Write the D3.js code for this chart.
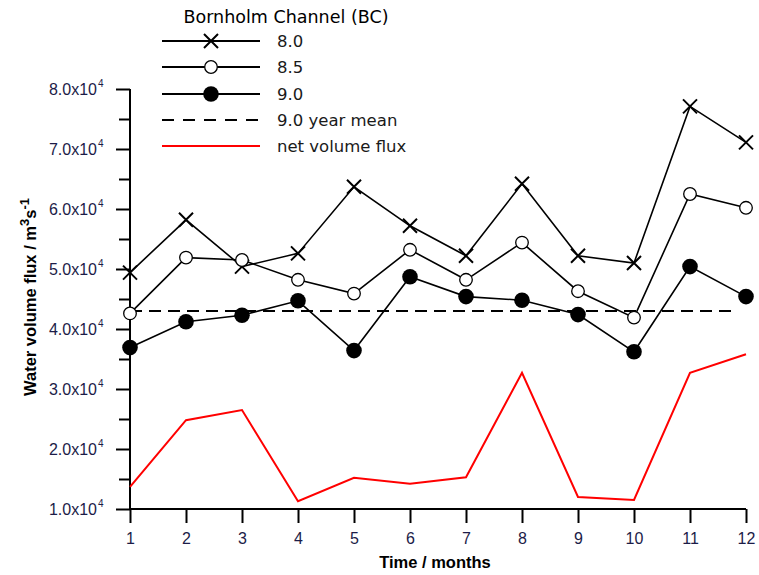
<!DOCTYPE html>
<html><head><meta charset="utf-8">
<script src="https://cdn.jsdelivr.net/npm/d3@7"></script>
<style>body{margin:0;background:#fff}</style>
</head><body>
<svg id="c" width="759" height="575"></svg>
<script>
const months = [1,2,3,4,5,6,7,8,9,10,11,12];
const s80 = [49400,58200,50400,52600,63700,57200,52200,64200,52200,51000,77100,71100];
const s85 = [42600,51900,51500,48200,45900,53200,48200,54400,46300,41900,62500,60200];
const s90 = [36900,41200,42300,44700,36400,48700,45400,44800,42400,36200,50400,45400];
const mean90 = 43000;
const netFlux = [13700,24800,26500,11300,15200,14200,15300,32700,12000,11500,32700,35800];
const yTicks = [10000,20000,30000,40000,50000,60000,70000,80000];
const yMinor = [15000,25000,35000,45000,55000,65000,75000];
const legendLabels = ["8.0","8.5","9.0","9.0 year mean","net volume flux"];

const svg = d3.select("#c");
const x = d3.scaleLinear().domain([1,12]).range([130,746]);
const y = d3.scaleLinear().domain([10000,80000]).range([509,89]);
const tickColor = "#1c1c48";
const sans = "Liberation Sans, Arial, sans-serif";

// axes
const yAx = svg.append("g").attr("transform","translate(130,0)")
  .call(d3.axisLeft(y).tickValues(yTicks).tickSize(14).tickFormat(""));
yAx.select(".domain").attr("stroke","#000").attr("stroke-width",2).attr("d","M0,89V509");
yAx.selectAll(".tick line").attr("stroke-width",2);
svg.append("g").attr("transform","translate(130,0)")
  .call(d3.axisLeft(y).tickValues(yMinor).tickSize(11).tickFormat(""))
  .call(g=>g.select(".domain").remove())
  .selectAll(".tick line").attr("stroke-width",2);
yTicks.forEach(v=>{
  svg.append("text").attr("x",97).attr("y",y(v)+6)
    .attr("text-anchor","end").attr("font-family",sans)
    .attr("font-size",16).attr("fill",tickColor)
    .text((v/10000).toFixed(1)+"x10");
  svg.append("text").attr("x",98).attr("y",y(v)-2).attr("font-family",sans)
    .attr("font-size",10).attr("fill",tickColor).text("4");
});
const xAx = svg.append("g").attr("transform","translate(0,509)")
  .call(d3.axisBottom(x).tickValues(months).tickSize(14).tickPadding(10).tickFormat(d3.format("d")));
xAx.select(".domain").attr("stroke-width",2).attr("d","M130,0H746");
xAx.selectAll(".tick line").attr("stroke-width",2);
xAx.selectAll(".tick text").attr("font-family",sans)
  .attr("font-size",16).attr("fill",tickColor);

// titles
svg.append("text").attr("x",435).attr("y",568).attr("text-anchor","middle")
  .attr("font-family",sans).attr("font-weight","bold")
  .attr("font-size",16.5).attr("fill","#000").text("Time / months");
const yt = svg.append("text").attr("transform","translate(36,297) rotate(-90)")
  .attr("text-anchor","middle").attr("font-family",sans)
  .attr("font-weight","bold").attr("font-size",16.5).attr("fill","#000");
yt.append("tspan").text("Water volume flux / m");
yt.append("tspan").attr("dy",-7).attr("font-size",13).text("3");
yt.append("tspan").attr("dy",7).text("s");
yt.append("tspan").attr("dy",-7).attr("font-size",13).text("-1");

// mean line
svg.append("line").attr("x1",x(1)).attr("x2",738).attr("y1",y(mean90)).attr("y2",y(mean90))
  .attr("stroke","#000").attr("stroke-width",2).attr("stroke-dasharray","12,7");

const line = d3.line().x((d,i)=>x(months[i])).y(d=>y(d));
svg.append("path").datum(netFlux).attr("d",line).attr("fill","none").attr("stroke","#ff0000").attr("stroke-width",2);
[s80,s85,s90].forEach(s=>{
  svg.append("path").datum(s).attr("d",line).attr("fill","none").attr("stroke","#000").attr("stroke-width",1.6);
});

function cross(g,cx,cy){
  const r=7;
  g.append("path").attr("d",`M${cx-r},${cy-r}L${cx+r},${cy+r}M${cx-r},${cy+r}L${cx+r},${cy-r}`)
    .attr("stroke","#000").attr("stroke-width",2).attr("fill","none");
}
function openC(g,cx,cy){
  g.append("circle").attr("cx",cx).attr("cy",cy).attr("r",6.3).attr("fill","#fff").attr("stroke","#000").attr("stroke-width",1.3);
}
function fillC(g,cx,cy){
  g.append("circle").attr("cx",cx).attr("cy",cy).attr("r",7.8).attr("fill","#000");
}
const mk = svg.append("g");
s80.forEach((v,i)=>cross(mk,x(months[i]),y(v)));
s85.forEach((v,i)=>openC(mk,x(months[i]),y(v)));
s90.forEach((v,i)=>fillC(mk,x(months[i]),y(v)));

// legend
const lg = svg.append("g");
lg.append("text").attr("x",286).attr("y",23).attr("text-anchor","middle")
  .attr("font-family","DejaVu Sans, Verdana, sans-serif").attr("font-size",17.5).attr("fill","#000")
  .text("Bornholm Channel (BC)");
const rows = [41,67,94,120,146];
rows.forEach((ry,i)=>{
  const ln = lg.append("line").attr("x1",162).attr("x2",260).attr("y1",ry).attr("y2",ry)
    .attr("stroke", i===4?"#ff0000":"#000").attr("stroke-width",2);
  if(i===3) ln.attr("stroke-dasharray","12,9");
  if(i===0) cross(lg,211,ry);
  if(i===1) openC(lg,211,ry);
  if(i===2) fillC(lg,211,ry);
  lg.append("text").attr("x",277).attr("y",ry+6).attr("font-family","DejaVu Sans, Verdana, sans-serif")
    .attr("font-size",16.5).attr("fill","#1a1a1a").text(legendLabels[i]);
});
</script>
</body></html>
